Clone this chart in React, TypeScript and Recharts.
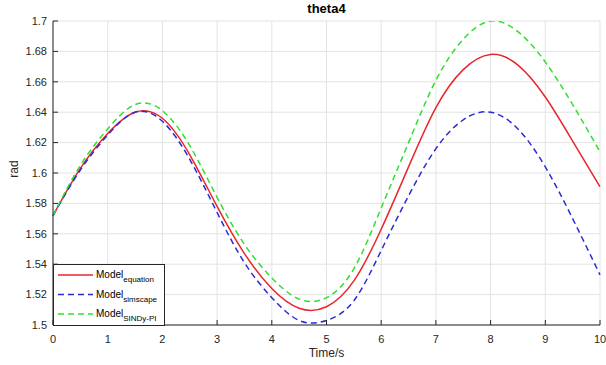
import React from 'react';
import { LineChart, Line, XAxis, YAxis, CartesianGrid } from 'recharts';

// time samples (s) and the three model outputs (rad)
const TIME = [0, 0.5, 1, 1.5, 2, 2.5, 3, 3.5, 4, 4.5, 5, 5.5, 6, 6.5, 7, 7.5, 8, 8.5, 9, 9.5, 10];
const EQUATION = [1.572, 1.603, 1.626, 1.640, 1.636, 1.612, 1.578, 1.547, 1.524, 1.511, 1.512, 1.529, 1.563, 1.604, 1.643, 1.668, 1.678, 1.671, 1.650, 1.621, 1.591];
const SIMSCAPE = [1.572, 1.602, 1.625, 1.640, 1.634, 1.609, 1.574, 1.541, 1.518, 1.503, 1.503, 1.516, 1.549, 1.585, 1.616, 1.635, 1.640, 1.629, 1.604, 1.570, 1.533];
const SINDY = [1.572, 1.605, 1.629, 1.645, 1.641, 1.618, 1.584, 1.553, 1.531, 1.517, 1.518, 1.537, 1.577, 1.620, 1.661, 1.688, 1.700, 1.693, 1.673, 1.645, 1.614];

const X_TICKS = [0, 1, 2, 3, 4, 5, 6, 7, 8, 9, 10];
const Y_TICKS = [1.5, 1.52, 1.54, 1.56, 1.58, 1.6, 1.62, 1.64, 1.66, 1.68, 1.7];

const SERIES = [
  { key: 'equation', sub: 'equation', color: '#e8262b', dash: undefined },
  { key: 'simscape', sub: 'simscape', color: '#2b2bd6', dash: '6 4' },
  { key: 'sindy', sub: 'SINDy-PI', color: '#2fe02f', dash: '6 4' },
];

const data = TIME.map((t, i) => ({
  t,
  equation: EQUATION[i],
  simscape: SIMSCAPE[i],
  sindy: SINDY[i],
}));

const AXIS = '#262626';
const FONT = 'Arial, "Liberation Sans", Helvetica, sans-serif';

const fmt = (v: number) => String(Number(v.toFixed(2)));

const BottomTick = ({ x, y, payload }: any) => (
  <g>
    <line x1={x} x2={x} y1={y} y2={y - 5} stroke={AXIS} />
    <text x={x} y={y + 18} textAnchor="middle" fontSize={11} fill={AXIS} fontFamily={FONT}>
      {payload.value}
    </text>
  </g>
);

const TopTick = ({ x, y }: any) => <line x1={x} x2={x} y1={y} y2={y + 5} stroke={AXIS} />;

const LeftTick = ({ x, y, payload }: any) => (
  <g>
    <line x1={x} x2={x + 5} y1={y} y2={y} stroke={AXIS} />
    <text x={x - 6} y={y} dy="0.35em" textAnchor="end" fontSize={11} fill={AXIS} fontFamily={FONT}>
      {fmt(payload.value)}
    </text>
  </g>
);

const RightTick = ({ x, y }: any) => <line x1={x} x2={x - 5} y1={y} y2={y} stroke={AXIS} />;

export default function App() {
  return (
    <div style={{ position: 'absolute', left: 0, top: 0, width: 606, height: 365, background: '#fff', fontFamily: FONT }}>
      <LineChart width={606} height={365} data={data} margin={{ top: 21, right: 6, bottom: 0, left: 0 }}>
        <CartesianGrid stroke="#e3e3e3" xAxisId="b" yAxisId="l" />
        <XAxis
          xAxisId="b"
          dataKey="t"
          type="number"
          domain={[0, 10]}
          ticks={X_TICKS}
          height={40}
          tickSize={0}
          tickMargin={0}
          tickLine={false}
          axisLine={{ stroke: AXIS }}
          tick={<BottomTick />}
          interval={0}
        />
        <XAxis
          xAxisId="t"
          orientation="top"
          dataKey="t"
          type="number"
          domain={[0, 10]}
          ticks={X_TICKS}
          height={0}
          tickSize={0}
          tickMargin={0}
          tickLine={false}
          axisLine={{ stroke: AXIS }}
          tick={<TopTick />}
          interval={0}
        />
        <YAxis
          yAxisId="l"
          type="number"
          domain={[1.5, 1.7]}
          ticks={Y_TICKS}
          width={53}
          tickSize={0}
          tickMargin={0}
          tickLine={false}
          axisLine={{ stroke: AXIS }}
          tick={<LeftTick />}
          interval={0}
          allowDataOverflow
        />
        <YAxis
          yAxisId="r"
          orientation="right"
          type="number"
          domain={[1.5, 1.7]}
          ticks={Y_TICKS}
          width={0}
          tickSize={0}
          tickMargin={0}
          tickLine={false}
          axisLine={{ stroke: AXIS }}
          tick={<RightTick />}
          interval={0}
          allowDataOverflow
        />
        {SERIES.map((s) => (
          <Line
            key={s.key}
            xAxisId="b"
            yAxisId="l"
            type="natural"
            dataKey={s.key}
            stroke={s.color}
            strokeWidth={1.5}
            strokeDasharray={s.dash}
            dot={false}
            isAnimationActive={false}
          />
        ))}
      </LineChart>

      {/* title and axis labels */}
      <div style={{ position: 'absolute', left: 326.5, top: 1, transform: 'translateX(-50%)', fontSize: 13, fontWeight: 'bold', color: '#000', whiteSpace: 'nowrap' }}>
        theta4
      </div>
      <div style={{ position: 'absolute', left: 326.5, top: 346, transform: 'translateX(-50%)', fontSize: 12, color: AXIS, whiteSpace: 'nowrap' }}>
        Time/s
      </div>
      <div style={{ position: 'absolute', left: 13.5, top: 169, transform: 'translate(-50%, -50%) rotate(-90deg)', fontSize: 12, color: AXIS }}>
        rad
      </div>

      {/* legend */}
      <svg style={{ position: 'absolute', left: 53, top: 264 }} width={112} height={62}>
        <rect x={0.5} y={0.5} width={111} height={61} fill="#fff" stroke={AXIS} />
        {SERIES.map((s, i) => {
          const cy = 11 + i * 19.5;
          return (
            <g key={s.key}>
              <line x1={5} x2={40} y1={cy} y2={cy} stroke={s.color} strokeWidth={1.5} strokeDasharray={s.dash} />
              <text x={43} y={cy + 3} fontSize={10} fill="#000" fontFamily={FONT}>
                Model
                <tspan dy={4} fontSize={8}>{s.sub}</tspan>
              </text>
            </g>
          );
        })}
      </svg>
    </div>
  );
}
